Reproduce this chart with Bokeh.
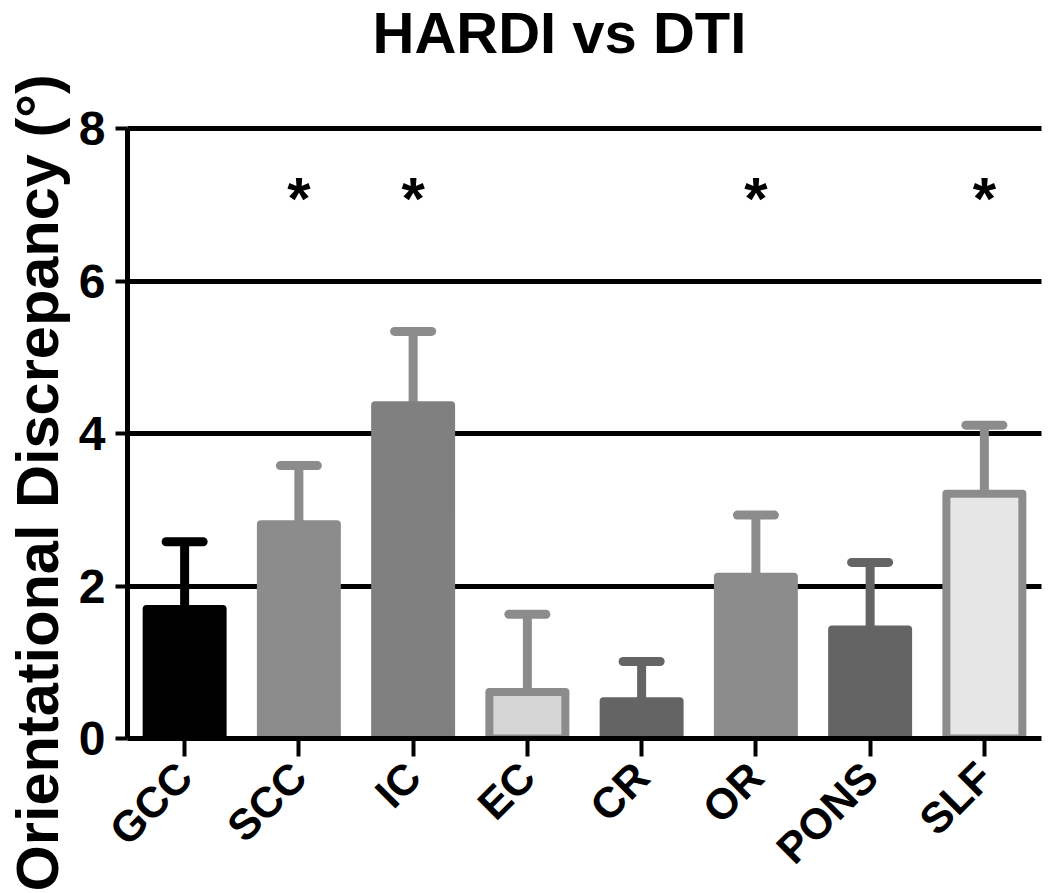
import math
from bokeh.plotting import figure
from bokeh.models import Range1d, FixedTicker, ColumnDataSource, Title, Label
from bokeh.transform import dodge
from bokeh.core.properties import value
from bokeh.embed import file_html
from bokeh.resources import INLINE

# ---- data ----
categories = ["GCC", "SCC", "IC", "EC", "CR", "OR", "PONS", "SLF"]
means = [1.70, 2.81, 4.37, 0.61, 0.49, 2.12, 1.43, 3.21]
upper = [2.58, 3.58, 5.34, 1.63, 1.01, 2.93, 2.31, 4.11]
fill_colors = ["#000000", "#8c8c8c", "#808080", "#d6d6d6", "#646464", "#8c8c8c", "#646464", "#e6e6e6"]
line_colors = ["#000000", "#8c8c8c", "#808080", "#8c8c8c", "#646464", "#8c8c8c", "#646464", "#8c8c8c"]
err_colors = ["#000000", "#8c8c8c", "#8c8c8c", "#8c8c8c", "#646464", "#8c8c8c", "#646464", "#8c8c8c"]
star_categories = ["SCC", "IC", "OR", "SLF"]
star_y = [7.08, 7.08, 7.08, 7.08]
y_ticks = [0, 2, 4, 6, 8]
grid_ticks = [2, 4, 6, 8]
title_text = "HARDI vs DTI"
y_label_text = "Orientational  Discrepancy (°)"

FONT = "Liberation Sans"

src = ColumnDataSource(dict(cat=categories, mean=means, upper=upper,
                            fill=fill_colors, line=line_colors, err=err_colors))

# the frame reaches the top of the canvas so the title can sit inside it;
# the y axis itself is bounded to 0..8
p = figure(x_range=categories, y_range=Range1d(0, 9.68),
           width=1042, height=893, output_backend="svg", toolbar_location=None,
           min_border_left=127, min_border_right=1, min_border_top=0, min_border_bottom=155)

p.outline_line_color = None
p.background_fill_color = "white"
p.border_fill_color = "white"

# y-axis title (left side)
ytitle = Title(text=y_label_text, text_font=FONT, text_font_style="bold",
               text_font_size="59.5px", text_color="black",
               align="left", offset=-153, vertical_align="top",
               standoff=6)
p.add_layout(ytitle, "left")

# main title
mtitle = Label(x=3.781, y=9.26, text=title_text, text_font=FONT,
               text_font_style="bold", text_font_size="58px", text_color="black",
               text_align="center", text_baseline="middle")
p.add_layout(mtitle)

# grid
p.xgrid.grid_line_color = None
p.ygrid.ticker = FixedTicker(ticks=grid_ticks)
p.ygrid.grid_line_color = "black"
p.ygrid.grid_line_width = 5
p.ygrid.grid_line_cap = "round"

# axes
p.yaxis.ticker = FixedTicker(ticks=y_ticks)
p.yaxis.bounds = (0, 8)
for ax in (p.xaxis[0], p.yaxis[0]):
    ax.axis_line_color = "black"
    ax.axis_line_width = 5
    ax.major_tick_line_color = "black"
    ax.major_tick_line_width = 4
    ax.major_tick_in = 0
    ax.minor_tick_line_color = None
    ax.major_label_text_font = FONT
    ax.major_label_text_font_style = "bold"
    ax.major_label_text_color = "black"

p.yaxis.major_tick_out = 12
p.yaxis.major_label_standoff = 10
p.yaxis.major_label_text_font_size = "48px"

p.xaxis.major_tick_out = 18
p.xaxis.major_label_standoff = 13
p.xaxis.major_label_text_font_size = "43px"
p.xaxis.major_label_text_line_height = 0.8
p.xaxis.major_label_orientation = 0.785

# error bars
p.segment(x0="cat", y0="mean", x1="cat", y1="upper", line_color="err",
          line_width=9, source=src)
p.segment(x0=dodge("cat", -0.162, range=p.x_range), y0="upper",
          x1=dodge("cat", 0.162, range=p.x_range), y1="upper",
          line_color="err", line_width=9, line_cap="round", source=src)

# bars
p.vbar(x="cat", top="mean", bottom=0, width=0.665, fill_color="fill",
       line_color="line", line_width=8, line_join="round", source=src)

# significance stars
p.text(x=star_categories, y=star_y, text=["*"] * len(star_categories),
       text_font=value(FONT), text_font_style="bold", text_font_size="60px",
       text_align="center", text_baseline="alphabetic", text_color="black")

open("out.html", "w").write(file_html(p, INLINE))
